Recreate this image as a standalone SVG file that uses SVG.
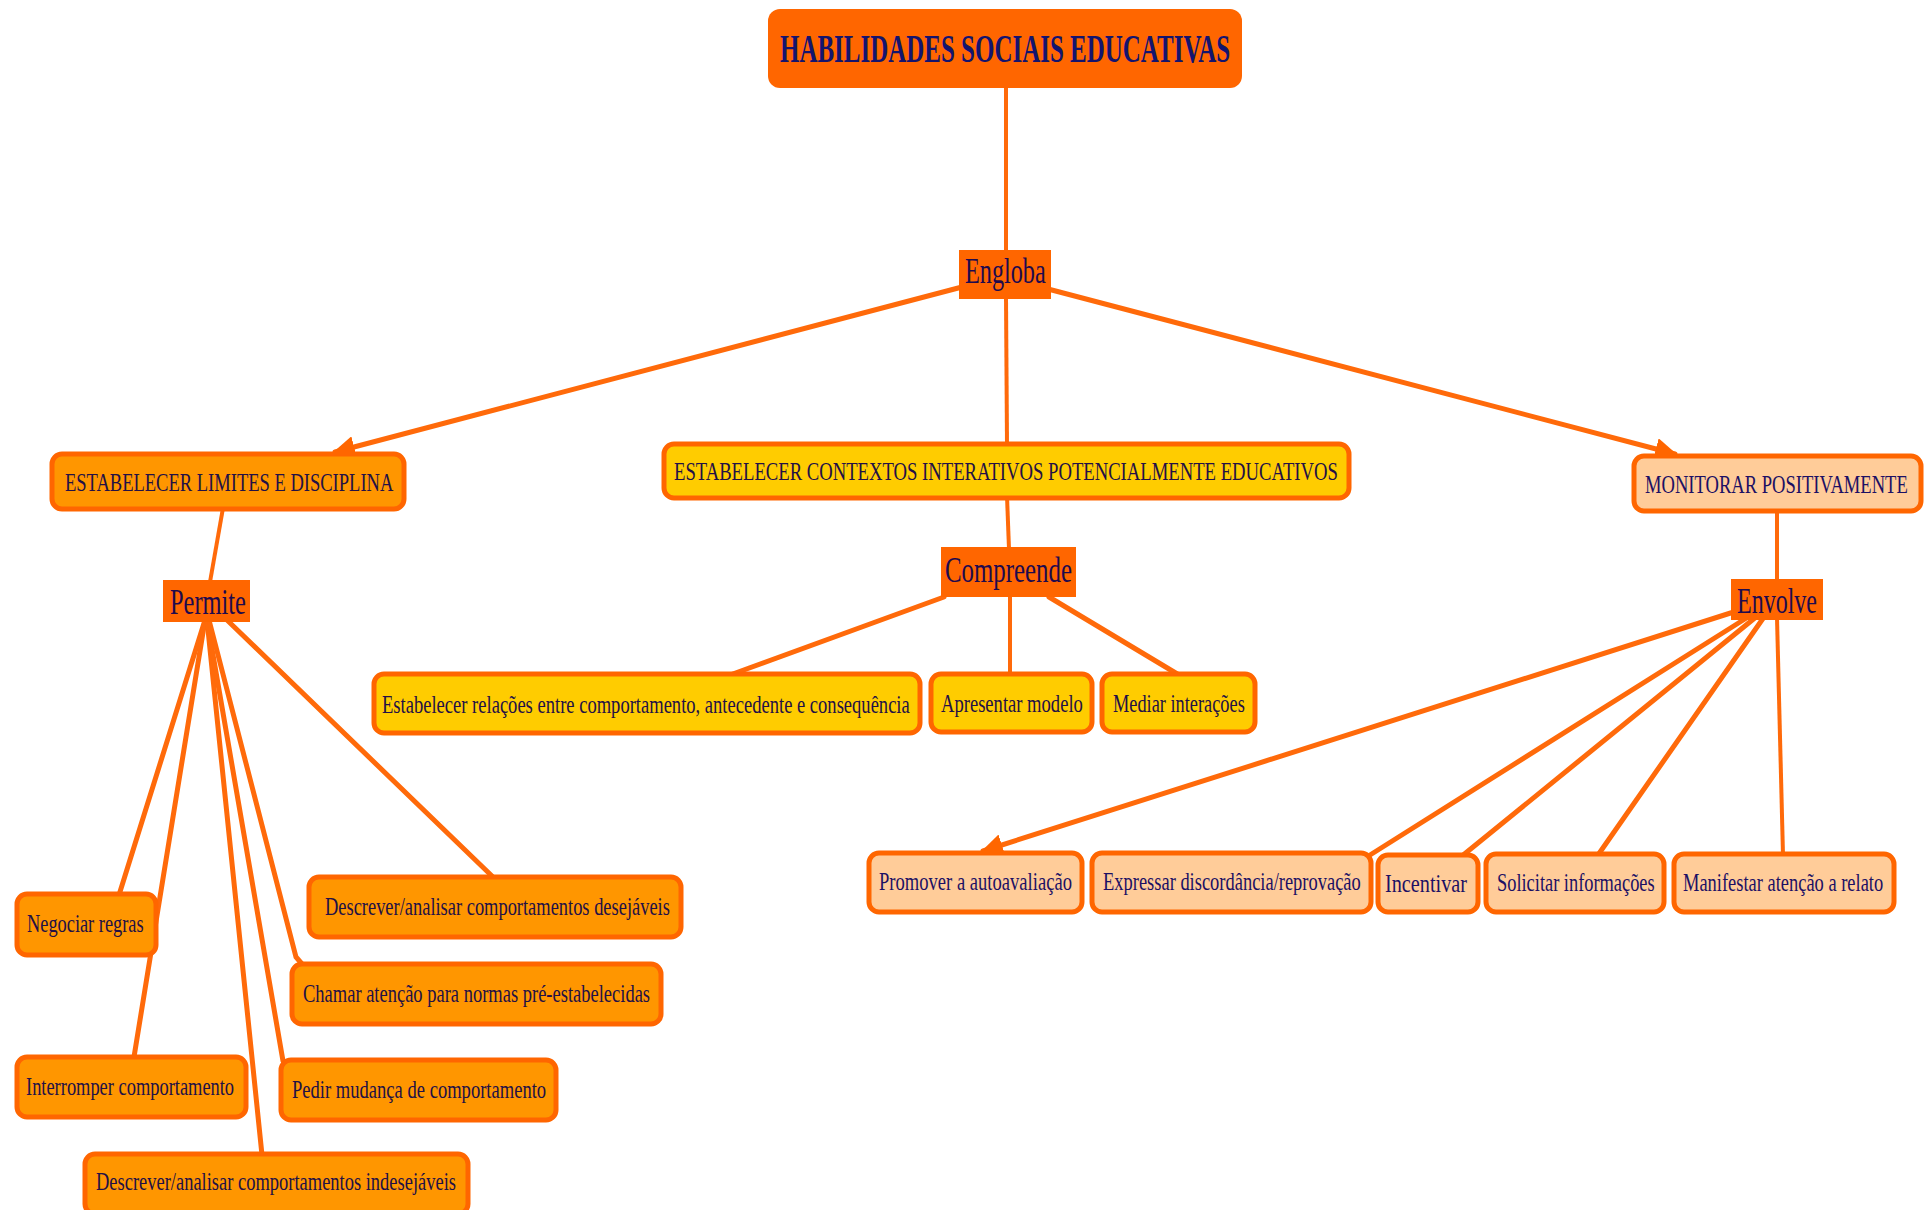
<svg xmlns="http://www.w3.org/2000/svg" width="1930" height="1210" viewBox="0 0 1930 1210">
<defs>
<style>
.ln{stroke:#FF6A0A;stroke-width:5;fill:none;stroke-linecap:round}
.lnt{stroke:#FF6A0A;stroke-width:4;fill:none}
.hub{fill:#FF6600}
.bx{stroke:#FF6600;stroke-width:5}
.lim{fill:#FF9600}
.ctx{fill:#FFCC00}
.mon{fill:#FFCC99}
.t{font-family:"Liberation Serif","Times New Roman",serif;font-size:26px;fill:#231046}
.tm{font-family:"Liberation Serif","Times New Roman",serif;font-size:26px;fill:#1c1064}
.th{font-family:"Liberation Serif","Times New Roman",serif;font-size:35px;fill:#1e0a4e}
.tt{font-family:"Liberation Serif","Times New Roman",serif;font-size:40px;font-weight:bold;fill:#14146e}
</style>
<marker id="arr" viewBox="0 0 10 10" refX="9" refY="5" markerWidth="22" markerHeight="22" markerUnits="userSpaceOnUse" orient="auto">
<path d="M0,0 L10,5 L0,10 z" fill="#FF6600"/>
</marker>
</defs>
<rect width="1930" height="1210" fill="#FFFFFF"/>
<g id="connectors">
<line class="lnt" x1="1006" y1="88" x2="1006" y2="252"/>
<line class="lnt" x1="1006" y1="297" x2="1007" y2="445"/>
<line class="ln" x1="962" y1="287" x2="335" y2="452" marker-end="url(#arr)"/>
<line class="ln" x1="1048" y1="289" x2="1675" y2="454" marker-end="url(#arr)"/>
<line class="lnt" x1="223" y1="508" x2="210" y2="582"/>
<line class="lnt" x1="1007" y1="496" x2="1009" y2="549"/>
<line class="ln" x1="944" y1="597" x2="730" y2="675"/>
<line class="lnt" x1="1010" y1="597" x2="1010" y2="675"/>
<line class="ln" x1="1049" y1="597" x2="1179" y2="675"/>
<line class="lnt" x1="1777" y1="509" x2="1777" y2="581"/>
<line class="ln" x1="205" y1="620" x2="119" y2="895"/>
<line class="ln" x1="205" y1="620" x2="134" y2="1057"/>
<line class="ln" x1="207" y1="620" x2="262" y2="1155"/>
<line class="ln" x1="207" y1="620" x2="283" y2="1061"/>
<polyline class="ln" points="209,620 296,957 302,964"/>
<line class="ln" x1="227" y1="620" x2="494" y2="878"/>
<line class="ln" x1="1740" y1="610" x2="983" y2="851" marker-end="url(#arr)"/>
<line class="ln" x1="1748" y1="617" x2="1370" y2="855"/>
<line class="ln" x1="1756" y1="617" x2="1462" y2="856"/>
<line class="ln" x1="1764" y1="617" x2="1598" y2="855"/>
<line class="lnt" x1="1777" y1="618" x2="1783" y2="855"/>
</g>
<g id="n-title">
<rect class="hub" x="768" y="9" width="474" height="79" rx="12"/>
<text class="tt" transform="translate(780,62) scale(0.62,1)" textLength="726" lengthAdjust="spacingAndGlyphs">HABILIDADES SOCIAIS EDUCATIVAS</text>
</g>
<g id="n-engloba">
<rect class="hub" x="959" y="250" width="92" height="49"/>
<text class="th" transform="translate(965,283) scale(0.69,1)" textLength="117" lengthAdjust="spacingAndGlyphs">Engloba</text>
</g>
<g id="n-limites">
<rect class="bx lim" x="52" y="454" width="352" height="55" rx="10"/>
<text class="t" transform="translate(65,491) scale(0.72,1)" textLength="456" lengthAdjust="spacingAndGlyphs">ESTABELECER LIMITES E DISCIPLINA</text>
</g>
<g id="n-contextos">
<rect class="bx ctx" x="664" y="444" width="685" height="54" rx="10"/>
<text class="t" transform="translate(674,480) scale(0.72,1)" textLength="922" lengthAdjust="spacingAndGlyphs">ESTABELECER CONTEXTOS INTERATIVOS POTENCIALMENTE EDUCATIVOS</text>
</g>
<g id="n-monitorar">
<rect class="bx mon" x="1634" y="456" width="287" height="55" rx="10"/>
<text class="tm" transform="translate(1645,493) scale(0.72,1)" textLength="365" lengthAdjust="spacingAndGlyphs">MONITORAR POSITIVAMENTE</text>
</g>
<g id="n-permite">
<rect class="hub" x="163" y="580" width="87" height="42"/>
<text class="th" transform="translate(170,614) scale(0.69,1)" textLength="110" lengthAdjust="spacingAndGlyphs">Permite</text>
</g>
<g id="n-compreende">
<rect class="hub" x="941" y="547" width="135" height="50"/>
<text class="th" transform="translate(945,582) scale(0.69,1)" textLength="184" lengthAdjust="spacingAndGlyphs">Compreende</text>
</g>
<g id="n-envolve">
<rect class="hub" x="1731" y="579" width="92" height="41"/>
<text class="th" transform="translate(1737,613) scale(0.69,1)" textLength="116" lengthAdjust="spacingAndGlyphs">Envolve</text>
</g>
<g id="n-relacoes">
<rect class="bx ctx" x="374" y="674" width="546" height="59" rx="10"/>
<text class="t" transform="translate(382,713) scale(0.72,1)" textLength="733" lengthAdjust="spacingAndGlyphs">Estabelecer relações entre comportamento, antecedente e consequência</text>
</g>
<g id="n-apresentar">
<rect class="bx ctx" x="931" y="674" width="161" height="58" rx="10"/>
<text class="t" transform="translate(941,712) scale(0.72,1)" textLength="197" lengthAdjust="spacingAndGlyphs">Apresentar modelo</text>
</g>
<g id="n-mediar">
<rect class="bx ctx" x="1102" y="674" width="153" height="58" rx="10"/>
<text class="t" transform="translate(1113,712) scale(0.72,1)" textLength="183" lengthAdjust="spacingAndGlyphs">Mediar interações</text>
</g>
<g id="n-negociar">
<rect class="bx lim" x="17" y="894" width="139" height="61" rx="10"/>
<text class="t" transform="translate(27,932) scale(0.72,1)" textLength="162" lengthAdjust="spacingAndGlyphs">Negociar regras</text>
</g>
<g id="n-desejaveis">
<rect class="bx lim" x="309" y="877" width="372" height="60" rx="10"/>
<text class="t" transform="translate(325,915) scale(0.72,1)" textLength="479" lengthAdjust="spacingAndGlyphs">Descrever/analisar comportamentos desejáveis</text>
</g>
<g id="n-chamar">
<rect class="bx lim" x="292" y="964" width="369" height="60" rx="10"/>
<text class="t" transform="translate(303,1002) scale(0.72,1)" textLength="482" lengthAdjust="spacingAndGlyphs">Chamar atenção para normas pré-estabelecidas</text>
</g>
<g id="n-interromper">
<rect class="bx lim" x="17" y="1057" width="229" height="60" rx="10"/>
<text class="t" transform="translate(26,1095) scale(0.72,1)" textLength="289" lengthAdjust="spacingAndGlyphs">Interromper comportamento</text>
</g>
<g id="n-pedir">
<rect class="bx lim" x="281" y="1060" width="275" height="60" rx="10"/>
<text class="t" transform="translate(292,1098) scale(0.72,1)" textLength="353" lengthAdjust="spacingAndGlyphs">Pedir mudança de comportamento</text>
</g>
<g id="n-indesejaveis">
<rect class="bx lim" x="85" y="1154" width="383" height="60" rx="10"/>
<text class="t" transform="translate(96,1190) scale(0.72,1)" textLength="500" lengthAdjust="spacingAndGlyphs">Descrever/analisar comportamentos indesejáveis</text>
</g>
<g id="n-promover">
<rect class="bx mon" x="869" y="853" width="213" height="59" rx="10"/>
<text class="tm" transform="translate(879,890) scale(0.72,1)" textLength="268" lengthAdjust="spacingAndGlyphs">Promover a autoavaliação</text>
</g>
<g id="n-expressar">
<rect class="bx mon" x="1092" y="853" width="279" height="59" rx="10"/>
<text class="tm" transform="translate(1103,890) scale(0.72,1)" textLength="358" lengthAdjust="spacingAndGlyphs">Expressar discordância/reprovação</text>
</g>
<g id="n-incentivar">
<rect class="bx mon" x="1378" y="855" width="100" height="57" rx="10"/>
<text class="tm" transform="translate(1385,892) scale(0.72,1)" textLength="114" lengthAdjust="spacingAndGlyphs">Incentivar</text>
</g>
<g id="n-solicitar">
<rect class="bx mon" x="1486" y="854" width="178" height="58" rx="10"/>
<text class="tm" transform="translate(1497,891) scale(0.72,1)" textLength="219" lengthAdjust="spacingAndGlyphs">Solicitar informações</text>
</g>
<g id="n-manifestar">
<rect class="bx mon" x="1674" y="854" width="220" height="58" rx="10"/>
<text class="tm" transform="translate(1683,891) scale(0.72,1)" textLength="278" lengthAdjust="spacingAndGlyphs">Manifestar atenção a relato</text>
</g>
</svg>
